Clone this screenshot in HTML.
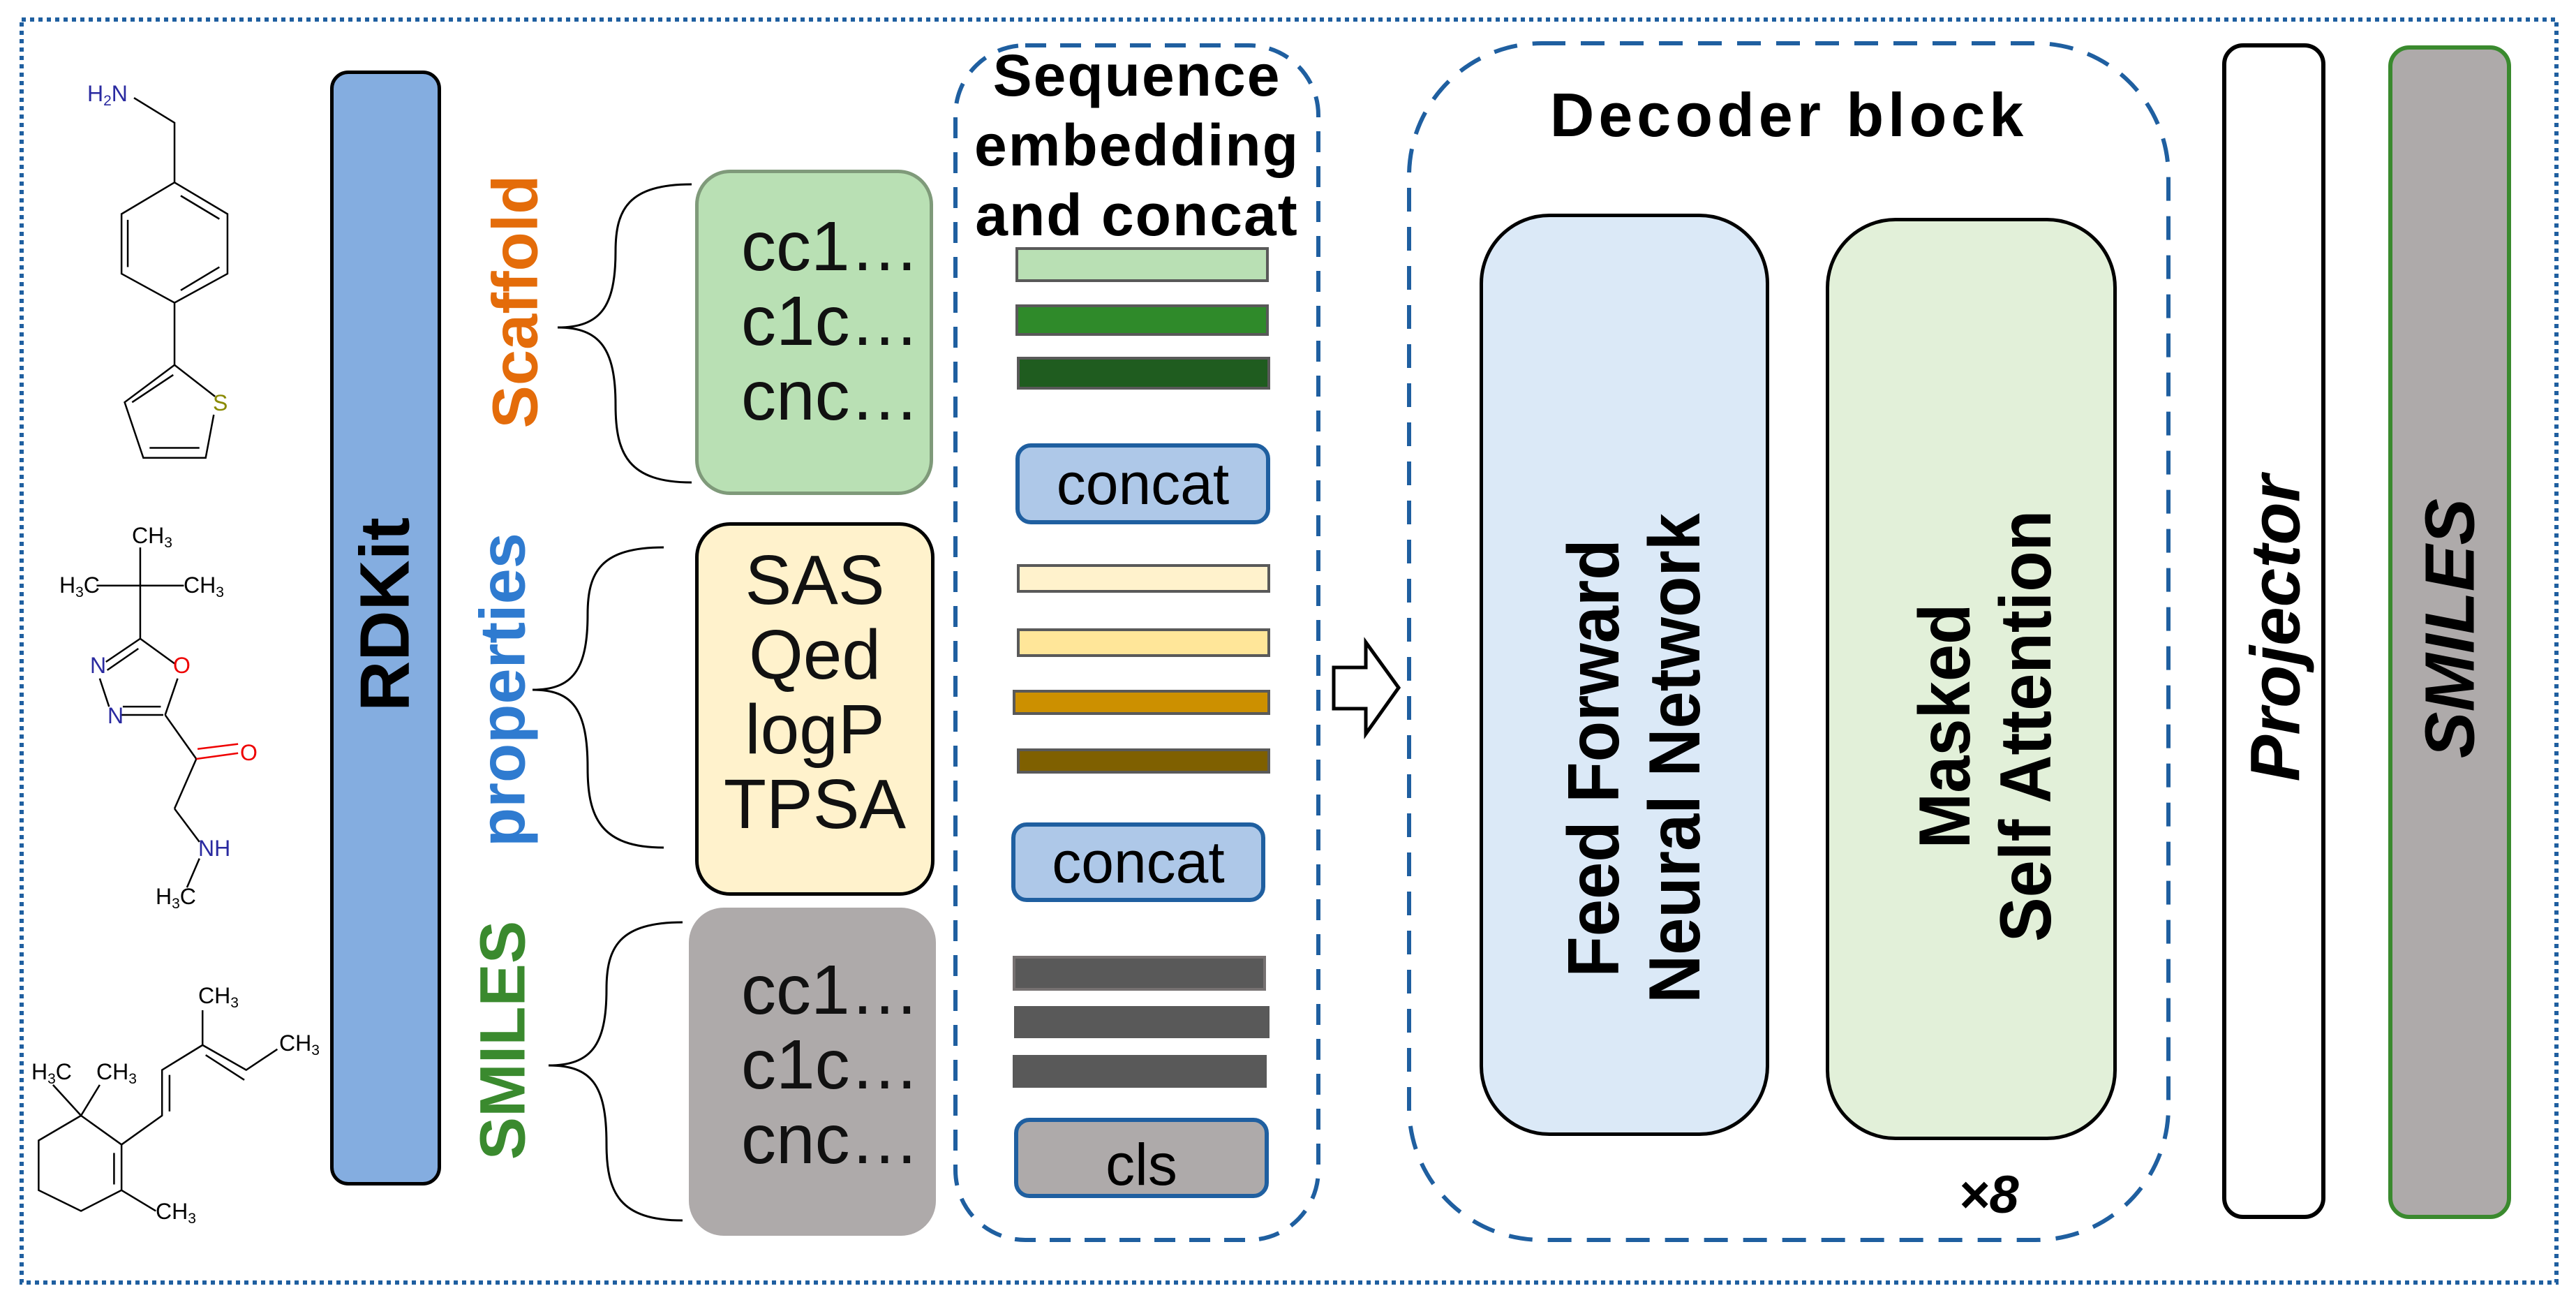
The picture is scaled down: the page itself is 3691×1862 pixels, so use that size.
<!DOCTYPE html>
<html><head><meta charset="utf-8"><style>
body{margin:0;width:3691px;height:1862px;background:#fff;position:relative;overflow:hidden;font-family:"Liberation Sans",sans-serif}
.a{position:absolute;box-sizing:border-box}
.rt{position:absolute;transform:translate(-50%,-50%) rotate(-90deg);white-space:nowrap;font-weight:bold;text-align:center}
.bar{position:absolute;box-sizing:border-box;border:4px solid #595959}
.cc{position:absolute;box-sizing:border-box;border:6px solid #1f5fa0;border-radius:22px;background:#aec8e8;font-size:84px;display:flex;align-items:center;justify-content:center}
.tx{position:absolute;font-size:100px;line-height:107px;color:#111}
.narrow{font-family:"Liberation Sans Narrow","Liberation Sans",sans-serif}
</style></head><body>
<svg class="a" style="left:0;top:0" width="3691" height="1862">
<rect x="31" y="28" width="3632" height="1809" fill="none" stroke="#1f5fa0" stroke-width="6" stroke-dasharray="6 6"/>
<rect x="1369" y="65" width="520" height="1711" rx="100" fill="none" stroke="#1f5fa0" stroke-width="6" stroke-dasharray="30 20"/>
<rect x="2019" y="62" width="1088" height="1714" rx="190" fill="none" stroke="#1f5fa0" stroke-width="6" stroke-dasharray="34 22"/>
<g fill="none" stroke="#000" stroke-width="3">
<path d="M991,264 C900,264 882,300 882,360 C882,440 860,469 799,469 C860,469 882,500 882,580 C882,650 900,691 991,691"/>
<path d="M951,784 C860,784 842,820 842,880 C842,960 820,988 763,988 C820,988 842,1015 842,1100 C842,1170 860,1214 951,1214"/>
<path d="M978,1321 C887,1321 869,1357 869,1417 C869,1497 847,1526 786,1526 C847,1526 869,1553 869,1638 C869,1708 887,1748 978,1748"/>
</g>
<path d="M1911,956 L1957,956 L1957,920 L2004,985 L1957,1051 L1957,1015 L1911,1015 Z" fill="#fff" stroke="#000" stroke-width="5"/>
<g transform="scale(0.893,1.188)" fill="none" stroke="#000" stroke-width="2.5">
<path vector-effect="non-scaling-stroke" d="M215,118 L280,148 L280,220 M280,220 L365,258 L365,330 L280,365 L195,330 L195,258 Z M205,265 L205,322 M290,236 L352,264 M290,350 L352,322 M280,365 L280,440 L345,478 M343,500 L330,552 L230,552 L200,485 L280,440 M240,540 L320,540 M212,485 L278,452"/>
<path vector-effect="non-scaling-stroke" d="M225,660 L225,770 M155,706 L295,706 M225,770 L280,800 M225,770 L170,798 M222,782 L172,808 M160,818 L175,852 M195,862 L262,862 M197,852 L258,852 M265,862 L285,818 M265,862 L315,915 M280,975 L315,915 M280,975 L320,1015 M320,1035 L300,1070"/>
<path vector-effect="non-scaling-stroke" d="M315,915 L382,908 M317,903 L382,897" stroke="#e00"/>
<path vector-effect="non-scaling-stroke" d="M130,1345 L195,1380 L195,1435 L130,1460 L62,1435 L62,1375 Z M183,1390 L183,1428 M130,1345 L85,1308 M130,1345 L160,1308 M195,1435 L250,1460 M195,1380 L260,1345 L260,1290 L325,1260 L395,1290 L445,1265 M272,1340 L272,1296 M330,1272 L392,1302 M325,1260 L325,1218"/>
</g>
<g font-family="Liberation Sans,sans-serif" font-size="32">
<text x="125" y="145" fill="#2a2aa0">H<tspan font-size="21" dy="6">2</tspan><tspan dy="-6">N</tspan></text>
<text x="305" y="588" fill="#8a8a00">S</text>
<text x="189" y="778">CH<tspan font-size="21" dy="6">3</tspan></text>
<text x="85" y="849">H<tspan font-size="21" dy="6">3</tspan><tspan dy="-6">C</tspan></text>
<text x="263" y="849">CH<tspan font-size="21" dy="6">3</tspan></text>
<text x="129" y="964" fill="#2a2aa0">N</text>
<text x="154" y="1036" fill="#2a2aa0">N</text>
<text x="248" y="964" fill="#e00">O</text>
<text x="344" y="1089" fill="#e00">O</text>
<text x="284" y="1226" fill="#2a2aa0">NH</text>
<text x="223" y="1295">H<tspan font-size="21" dy="6">3</tspan><tspan dy="-6">C</tspan></text>
<text x="284" y="1437">CH<tspan font-size="21" dy="6">3</tspan></text>
<text x="400" y="1505">CH<tspan font-size="21" dy="6">3</tspan></text>
<text x="45" y="1546">H<tspan font-size="21" dy="6">3</tspan><tspan dy="-6">C</tspan></text>
<text x="138" y="1546">CH<tspan font-size="21" dy="6">3</tspan></text>
<text x="223" y="1746">CH<tspan font-size="21" dy="6">3</tspan></text>
</g>
</svg>

<div class="a" style="left:473px;top:101px;width:159px;height:1597px;background:#84ade0;border:5px solid #000;border-radius:26px"></div>
<div class="rt" style="left:552px;top:880px;font-size:100px">RDKit</div>

<div class="rt" style="left:739px;top:432px;font-size:92px;color:#e46c0a">Scaffold</div>
<div class="rt" style="left:721px;top:988px;font-size:92px;color:#2f7bd0">properties</div>
<div class="rt" style="left:721px;top:1490px;font-size:92px;color:#3a8a2e">SMILES</div>

<div class="a" style="left:996px;top:243px;width:341px;height:466px;background:#b9e0b4;border:5px solid #7f9a7a;border-radius:50px"></div>
<div class="tx" style="left:1062px;top:300px">cc1…<br>c1c…<br>cnc…</div>
<div class="a" style="left:996px;top:748px;width:343px;height:535px;background:#fff2cc;border:5px solid #000;border-radius:50px"></div>
<div class="tx" style="left:996px;width:343px;text-align:center;top:778px">SAS<br>Qed<br>logP<br>TPSA</div>
<div class="a" style="left:987px;top:1300px;width:354px;height:470px;background:#aeaaaa;border-radius:50px"></div>
<div class="tx" style="left:1062px;top:1365px">cc1…<br>c1c…<br>cnc…</div>

<div class="a" style="left:1369px;top:58px;width:520px;text-align:center;font-weight:bold;font-size:84px;line-height:100px;letter-spacing:2px">Sequence<br>embedding<br>and concat</div>
<div class="bar" style="left:1455px;top:354px;width:363px;height:50px;background:#b9e0b4"></div>
<div class="bar" style="left:1455px;top:436px;width:363px;height:45px;background:#2f8a2a"></div>
<div class="bar" style="left:1457px;top:511px;width:363px;height:47px;background:#1f5c1f"></div>
<div class="cc" style="left:1455px;top:635px;width:365px;height:116px">concat</div>
<div class="bar" style="left:1457px;top:808px;width:363px;height:41px;background:#fff2cc"></div>
<div class="bar" style="left:1457px;top:900px;width:363px;height:41px;background:#ffe699"></div>
<div class="bar" style="left:1451px;top:988px;width:369px;height:36px;background:#cc9000"></div>
<div class="bar" style="left:1457px;top:1072px;width:363px;height:36px;background:#7f6000"></div>
<div class="cc" style="left:1449px;top:1178px;width:364px;height:114px">concat</div>
<div class="bar" style="left:1451px;top:1369px;width:363px;height:50px;background:#595959;border-color:#767171"></div>
<div class="bar" style="left:1453px;top:1441px;width:366px;height:46px;background:#595959"></div>
<div class="bar" style="left:1451px;top:1511px;width:364px;height:47px;background:#595959"></div>
<div class="cc" style="left:1453px;top:1601px;width:365px;height:115px;background:#aeaaaa;padding-top:20px">cls</div>

<div class="a" style="left:2019px;top:114px;width:1088px;text-align:center;font-weight:bold;font-size:88px;letter-spacing:6px">Decoder block</div>
<div class="a" style="left:2120px;top:306px;width:415px;height:1321px;background:#dbe9f7;border:5px solid #000;border-radius:100px"></div>
<div class="rt" style="left:2342px;top:1086px;font-size:104px;line-height:116px;transform:translate(-50%,-50%) rotate(-90deg) scaleX(0.92)">Feed Forward<br>Neural Network</div>
<div class="a" style="left:2616px;top:312px;width:417px;height:1321px;background:#e2f0d9;border:5px solid #000;border-radius:100px"></div>
<div class="rt" style="left:2845px;top:1040px;font-size:104px;line-height:116px;transform:translate(-50%,-50%) rotate(-90deg) scaleX(0.92)">Masked<br>Self Attention</div>
<div class="a" style="left:2806px;top:1668px;font-size:76px;font-weight:bold;font-style:italic">×8</div>

<div class="a" style="left:3184px;top:62px;width:148px;height:1684px;background:#fff;border:6px solid #000;border-radius:30px"></div>
<div class="rt" style="left:3261px;top:900px;font-size:100px;font-style:italic">Projector</div>
<div class="a" style="left:3422px;top:65px;width:176px;height:1681px;background:#aeaaaa;border:6px solid #3a8a2e;border-radius:30px"></div>
<div class="rt" style="left:3511px;top:900px;font-size:100px;font-style:italic">SMILES</div>
</body></html>
